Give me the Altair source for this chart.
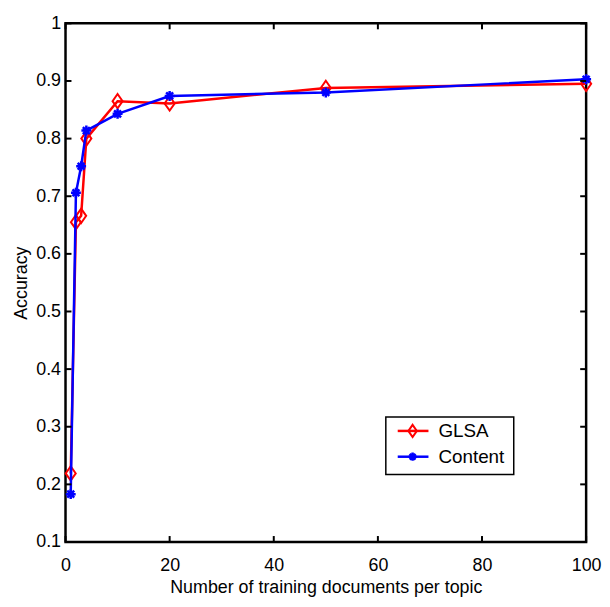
import altair as alt
import pandas as pd

# ---- data ----
n_docs = [1, 2, 3, 4, 10, 20, 50, 100]
glsa = [0.219, 0.655, 0.666, 0.800, 0.865, 0.861, 0.888, 0.895]
content = [0.183, 0.706, 0.752, 0.814, 0.843, 0.874, 0.880, 0.903]
series_names = ["GLSA", "Content"]
series_colors = ["#ff0000", "#0000ff"]
x_ticks = [0, 20, 40, 60, 80, 100]
y_ticks = [0.1, 0.2, 0.3, 0.4, 0.5, 0.6, 0.7, 0.8, 0.9, 1.0]

W, H = 525, 523
FONT = "Liberation Sans"
FS = 18

DIAMOND = "M0,-1L0.7,0L0,1L-0.7,0Z"
ASTER = "M-1,0L1,0M0,-1L0,1M-0.7,-0.7L0.7,0.7M-0.7,0.7L0.7,-0.7"

xscale = alt.Scale(domain=[0, 100], nice=False, zero=False)
yscale = alt.Scale(domain=[0.1, 1.0], nice=False, zero=False)

df_g = pd.DataFrame({"n": n_docs, "acc": glsa})
df_c = pd.DataFrame({"n": n_docs, "acc": content})

xenc = alt.X("n:Q", scale=xscale, axis=alt.Axis(
    values=x_ticks, title="Number of training documents per topic",
    labelPadding=15, labelFlush=False, titleY=51, titleBaseline="alphabetic"))
yenc = alt.Y("acc:Q", scale=yscale, axis=alt.Axis(
    values=y_ticks, format=".1~f", title="Accuracy", labelPadding=5, labelFlush=False,
    titleAngle=270, titleX=-39, titleY=H / 2, titleBaseline="alphabetic",
    titleAlign="center"))

g_line = alt.Chart(df_g).mark_line(color=series_colors[0], strokeWidth=2.5).encode(x=xenc, y=yenc)
g_pts = alt.Chart(df_g).mark_point(shape=DIAMOND, size=210, filled=False,
                                   color=series_colors[0], strokeWidth=2, opacity=1).encode(
    x=alt.X("n:Q", scale=xscale), y=alt.Y("acc:Q", scale=yscale))
c_line = alt.Chart(df_c).mark_line(color=series_colors[1], strokeWidth=2.5).encode(
    x=alt.X("n:Q", scale=xscale), y=alt.Y("acc:Q", scale=yscale))
c_pts = alt.Chart(df_c).mark_point(shape=ASTER, size=100, filled=False,
                                   color=series_colors[1], strokeWidth=2.5, opacity=1).encode(
    x=alt.X("n:Q", scale=xscale), y=alt.Y("acc:Q", scale=yscale))

# inward ticks (MATLAB style)
xt = pd.DataFrame({"t": x_ticks})
yt = pd.DataFrame({"t": y_ticks})
TL = 6
tick_layers = [
    alt.Chart(xt).mark_rule(color="black", strokeWidth=2).encode(
        x=alt.X("t:Q", scale=xscale), y=alt.value(H), y2=alt.value(H - TL)),
    alt.Chart(xt).mark_rule(color="black", strokeWidth=2).encode(
        x=alt.X("t:Q", scale=xscale), y=alt.value(0), y2=alt.value(TL)),
    alt.Chart(yt).mark_rule(color="black", strokeWidth=2).encode(
        y=alt.Y("t:Q", scale=yscale), x=alt.value(0), x2=alt.value(TL)),
    alt.Chart(yt).mark_rule(color="black", strokeWidth=2).encode(
        y=alt.Y("t:Q", scale=yscale), x=alt.value(W), x2=alt.value(W - TL)),
]

# legend box
lg_df = pd.DataFrame({"label": series_names})
legend_box = alt.Chart(lg_df.head(1)).mark_rect(fill="white", stroke="black", strokeWidth=1.5).encode(
    x=alt.value(323), x2=alt.value(452), y=alt.value(397), y2=alt.value(455))
legend_layers = [legend_box]
rows = [(0, 411, DIAMOND, 150, 2), (1, 437, ASTER, 70, 2.5)]
for i, yy, shp, sz, sw in rows:
    d = lg_df.iloc[[i]]
    legend_layers.append(alt.Chart(d).mark_rule(color=series_colors[i], strokeWidth=2.5).encode(
        x=alt.value(335), x2=alt.value(366), y=alt.value(yy)))
    legend_layers.append(alt.Chart(d).mark_point(shape=shp, size=sz, filled=False, opacity=1,
                                                 color=series_colors[i], strokeWidth=sw).encode(
        x=alt.value(350), y=alt.value(yy)))
    legend_layers.append(alt.Chart(d).mark_text(align="left", baseline="middle", font=FONT,
                                                fontSize=FS + 1, color="black").encode(
        x=alt.value(376), y=alt.value(yy), text="label:N"))

chart = alt.layer(g_line, g_pts, c_line, c_pts, *tick_layers, *legend_layers).properties(
    width=W, height=H,
    autosize=alt.AutoSizeParams(type="none"),
    padding={"left": 58, "top": 13, "right": 16, "bottom": 54},
    background="white",
).configure_view(stroke="black", strokeWidth=2.5).configure_axis(
    labelFont=FONT, labelFontSize=FS, labelColor="black",
    titleFont=FONT, titleFontSize=FS, titleColor="black", titleFontWeight="normal",
    domain=False, ticks=False, grid=False,
)

chart.save("out.html", embed_options={"renderer": "svg", "actions": False})
